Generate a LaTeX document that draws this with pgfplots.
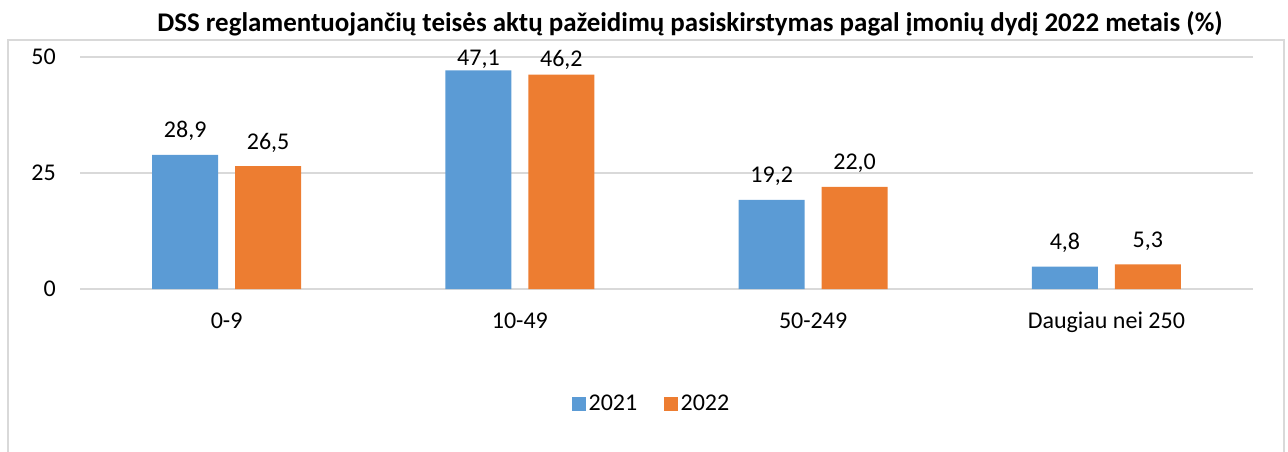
\documentclass[border=0pt]{standalone}
\usepackage{fontspec}
\setmainfont{Carlito}
\usepackage{pgfplots}
\usepackage{pgfplotstable}
\pgfplotsset{compat=1.18}
\definecolor{cblue}{HTML}{5B9BD5}
\definecolor{corange}{HTML}{ED7D31}
\definecolor{cgrid}{HTML}{D9D9D9}
\pgfplotstableread{
x y dy
0 28.9 12.75
1 47.1 3.4
2 19.2 12.75
3 4.8 12.75
}\tableA
\pgfplotstableread{
x y dy
0 26.5 12.75
1 46.2 6.45
2 22.0 12.75
3 5.3 12.75
}\tableB
\begin{document}
\begin{tikzpicture}[x=0.75pt,y=0.75pt]
\useasboundingbox (0,0) rectangle (1288,451);
\draw[cgrid, line width=1.2pt] (8,-20) -- (8,411) -- (1284,411) -- (1284,-20);
\node[font=\bfseries\fontsize{20.2}{22}\selectfont, anchor=base, inner sep=0pt] at (690,419) {DSS reglamentuojančių teisės aktų pažeidimų pasiskirstymas pagal įmonių dydį 2022 metais (\%)};
\begin{axis}[
  at={(60pt,121.5pt)}, anchor=south west,
  scale only axis, width=879.75pt, height=174pt,
  ybar, bar width=49.5pt,
  xmin=-0.5, xmax=3.5, ymin=0, ymax=50,
  xtick={0,1,2,3},
  xticklabels={0-9,10-49,50-249,Daugiau nei 250},
  ytick={0,25,50},
  axis line style={draw=none},
  major tick length=0pt,
  ymajorgrids, grid style={cgrid, line width=1.2pt},
  /pgf/number format/assume math mode=true,
  ticklabel style={font=\fontsize{18}{20}\selectfont},
  yticklabel style={anchor=east, inner sep=0pt, xshift=-18pt},
  xticklabel style={anchor=base, inner sep=0pt, yshift=-29.25pt},
  visualization depends on={\thisrow{dy} \as \labdy},
  nodes near coords,
  nodes near coords style={font=\fontsize{18}{20}\selectfont, anchor=base, inner sep=0pt, yshift=\labdy pt,
    /pgf/number format/.cd, fixed, fixed zerofill, precision=1, use comma, assume math mode=true},
  legend style={at={(0.4876,-0.4957)}, anchor=center, draw=none, fill=none,
    legend columns=2, font=\fontsize{18}{20}\selectfont,
    /tikz/every even column/.append style={column sep=18pt}},
  legend image code/.code={\fill[#1] (0pt,-5.25pt) rectangle (10.5pt,5.25pt);},
  clip=false,
]
\addplot[fill=cblue, draw=none, bar shift=-31.1pt] table[x=x,y=y] {\tableA};
\addplot[fill=corange, draw=none, bar shift=31.1pt] table[x=x,y=y] {\tableB};
\legend{2021,2022}
\end{axis}
\end{tikzpicture}
\end{document}
